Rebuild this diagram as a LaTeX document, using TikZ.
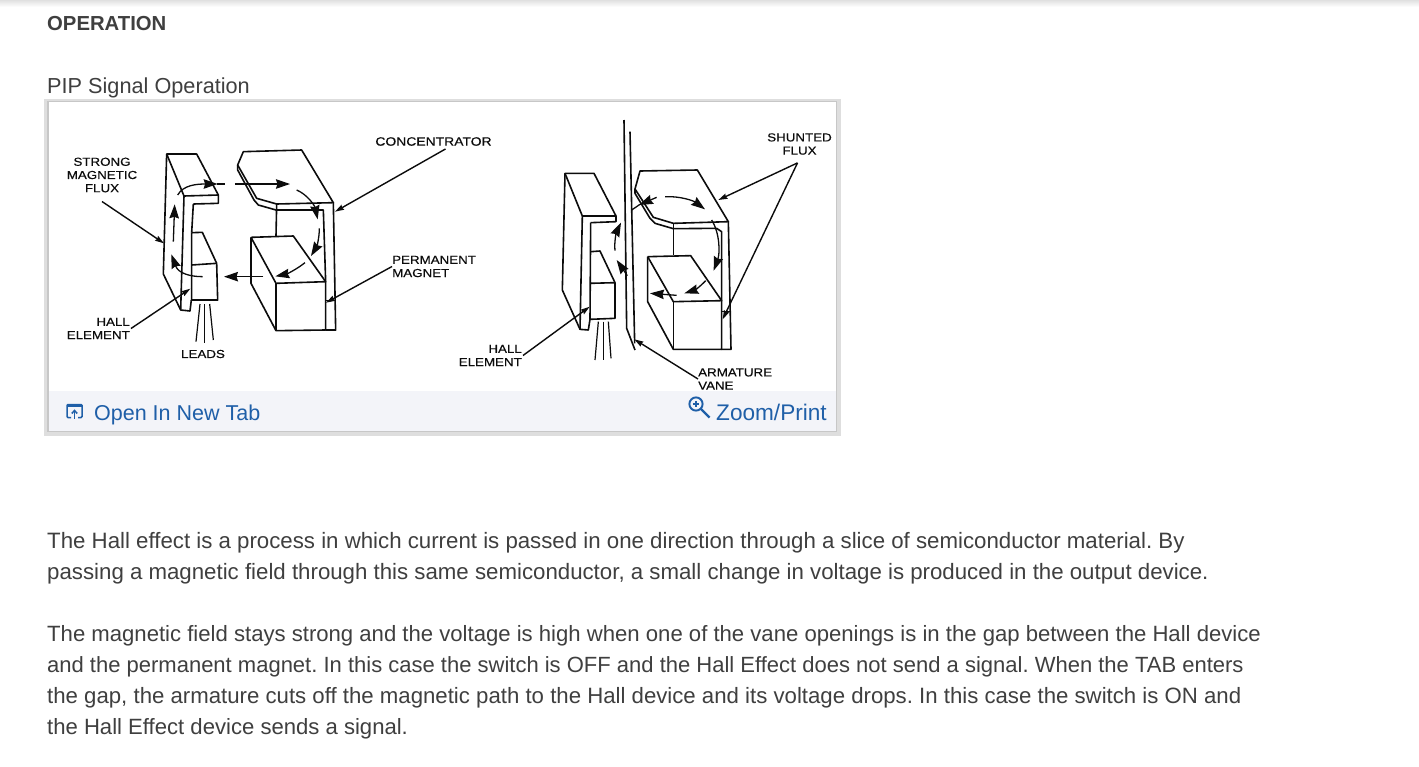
\documentclass[tikz,border=0pt]{standalone}
\usepackage{fontspec}
\setmainfont{Liberation Sans}
\newfontfamily\lblfont[FakeStretch=1.15,FakeBold=0.35]{Liberation Sans}
\frenchspacing
\usetikzlibrary{arrows.meta}
\definecolor{bodytxt}{HTML}{3F3F3F}
\definecolor{linkblue}{HTML}{1F5FA8}
\definecolor{ink}{HTML}{0C0C0C}
\definecolor{footbg}{HTML}{F3F4F9}
\tikzset{
  body/.style={anchor=base west,inner sep=0pt,text=bodytxt,font=\fontsize{22.25}{26}\selectfont},
  lbl/.style={inner sep=0pt,text=ink,font=\lblfont\fontsize{11.6}{13.2}\selectfont},
  link/.style={anchor=base west,inner sep=0pt,text=linkblue,font=\fontsize{21.5}{26}\selectfont},
  part/.style={draw=ink,line width=1.6pt,line join=round},
  flux/.style={draw=ink,line width=1.3pt,-{Stealth[length=14pt,width=9.5pt,inset=1.5pt,fill=ink]}},
  fluxtail/.style={draw=ink,line width=1.3pt},
  lead/.style={draw=ink,line width=1.4pt,-{Stealth[length=9pt,width=5.5pt,inset=1pt,fill=ink]}},
  wire/.style={draw=ink,line width=1.2pt},
}
\begin{document}
\begin{tikzpicture}[x=1pt,y=-1pt]
\useasboundingbox (0,0) rectangle (1419,766);
\fill[white] (0,0) rectangle (1419,766);
\shade[top color=black!12,bottom color=white] (0,0) rectangle (1419,7);

\node[body,font=\fontsize{20.3}{26}\bfseries\selectfont] (title) at (47,30) {OPERATION};
\node[body,font=\fontsize{21.7}{26}\selectfont] (sub) at (47,93) {PIP Signal Operation};

% card
\fill[black!13] (44,99) rectangle (841,436);
\fill[black!22] (47,101) rectangle (837,432);
\fill[white] (48.5,102) rectangle (835.5,430.5);
\fill[footbg] (48.5,391) rectangle (835.5,430.5);

% labels
\node[lbl,align=center] (strong) at (102,175) {STRONG\\MAGNETIC\\FLUX};
\node[lbl,font=\lblfont\fontsize{12.1}{13.2}\selectfont] (conc) at (433.5,141.5) {CONCENTRATOR};
\node[lbl,align=left,anchor=west] (perm) at (392,266.5) {PERMANENT\\MAGNET};
\node[lbl,align=right,anchor=east] (hallA) at (130,328.5) {HALL\\ELEMENT};
\node[lbl] (leadsA) at (203,354) {LEADS};
\node[lbl,align=right,anchor=east] (hallB) at (522,355.5) {HALL\\ELEMENT};
\node[lbl,align=left,anchor=west] (vane) at (698,379) {ARMATURE\\VANE};
\node[lbl,align=center] (shunt) at (799.5,144) {SHUNTED\\FLUX};

% LEFT ASSEMBLY (coordinates in 3x crop units)
\begin{scope}[shift={(50,110)},x=0.33333pt,y=-0.33333pt]
  \draw[part] (430,282) -- (505,280) -- (505,255) -- (440,132) -- (350,132) -- (340,492) -- (392,600) -- (420,603) -- (424,570);
  \draw[part] (350,132) -- (402,258) -- (505,255);
  \draw[part] (402,258) -- (392,600);
  \draw[part] (430,282) -- (425,368);
  % hall element
  \draw[part] (425,368) -- (457,367) -- (500,460) -- (503,570) -- (425,570) -- (425,368);
  \draw[part] (425,465) -- (500,460);
  % leads
  \draw[wire] (450,582) -- (438,695);
  \draw[wire] (464,582) -- (464,700);
  \draw[wire] (479,582) -- (490,690);
  % concentrator
  \draw[part] (680,282) -- (620,265) -- (563,165) -- (580,125) -- (755,120) -- (850,278) -- (680,282);
  \draw[part] (563,165) -- (563,180) -- (612,270) -- (625,285) -- (678,300) -- (820,300) -- (827,515);
  \draw[part] (680,282) -- (678,378);
  \draw[part] (850,278) -- (857,660) -- (827,660);
  % magnet
  \draw[part] (603,382) -- (730,378) -- (827,515) -- (678,520) -- (603,382);
  \draw[part] (603,382) -- (603,520) -- (678,662) -- (827,660) -- (827,515);
  \draw[part] (678,520) -- (678,662);
  \draw[part] (827,572) -- (857,572);
  % flux arrows
  \draw[flux] (383,255) .. controls (400,225) and (440,222) .. (503,222);
  \draw[fluxtail] (500,222) -- (525,222);
  \draw[flux] (555,222) -- (720,222);
  \draw[flux] (740,240) .. controls (775,255) and (795,290) .. (803,328);
  \draw[flux] (808,355) .. controls (808,385) and (800,410) .. (783,438);
  \draw[flux] (765,458) .. controls (740,478) and (710,492) .. (676,499);
  \draw[flux] (640,500) -- (522,500);
  \draw[flux] (458,500) .. controls (420,500) and (385,490) .. (364,433);
  \draw[flux] (370,395) -- (374,283);
  \coordinate (tipStrong) at (342,400);
  \coordinate (tipHallA) at (421,536);
  \coordinate (tipConc) at (855,305);
  \coordinate (tipPerm) at (828,578);
\end{scope}

% RIGHT ASSEMBLY
\begin{scope}[shift={(540,110)},x=0.33333pt,y=-0.33333pt]
  \draw[part] (152,338) -- (228,335) -- (228,318) -- (162,190) -- (75,190) -- (67,540) -- (120,658) -- (145,660) -- (150,628);
  \draw[part] (75,190) -- (127,318) -- (228,318);
  \draw[part] (127,318) -- (120,658);
  % hall element
  \draw[part] (152,338) -- (150,628) -- (225,625) -- (225,518) -- (150,520);
  \draw[part] (153,425) -- (180,423) -- (225,518);
  % leads
  \draw[wire] (175,635) -- (165,750);
  \draw[wire] (190,635) -- (190,750);
  \draw[wire] (205,635) -- (213,745);
  % vane
  \draw[part] (252,30) -- (260,655) -- (285,720);
  \draw[part] (270,65) -- (284,700);
  % concentrator
  \draw[part] (400,340) -- (340,322) -- (285,237) -- (300,183) -- (472,180) -- (565,335) -- (400,340);
  \draw[part] (285,237) -- (285,250) -- (330,325) -- (345,340) -- (400,356) -- (530,355) -- (545,365) -- (545,572);
  \draw[part] (400,340) -- (400,435);
  \draw[part] (565,335) -- (573,718) -- (545,718);
  % magnet
  \draw[part] (323,440) -- (452,437) -- (545,572) -- (400,575) -- (323,440);
  \draw[part] (323,440) -- (323,575) -- (400,718) -- (545,718) -- (545,572);
  \draw[part] (400,575) -- (400,718);
  \draw[part] (545,605) -- (573,605);
  % flux arrows
  \draw[flux] (350,262) -- (297,285);
  \draw[fluxtail] (300,283) -- (275,300);
  \draw[flux] (375,260) .. controls (420,258) and (460,272) .. (495,298);
  \draw[flux] (515,330) .. controls (540,370) and (540,430) .. (521,482);
  \draw[flux] (497,512) .. controls (480,530) and (465,540) .. (433,550);
  \draw[flux] (410,556) -- (330,550);
  \draw[flux] (225,422) .. controls (222,395) and (230,365) .. (243,338);
  \draw[flux] (262,497) -- (230,450);
  \coordinate (tipShuntA) at (535,270);
  \coordinate (tipShuntB) at (548,628);
  \coordinate (tipVane) at (283,688);
  \coordinate (tipHallB) at (149,590);
\end{scope}

% leaders
\draw[lead] ([yshift=-9pt]strong.south) -- (tipStrong);
\draw[lead] ([xshift=1pt]hallA.east) -- (tipHallA);
\draw[lead] ([xshift=12pt,yshift=-3pt]conc.south) -- (tipConc);
\draw[lead] (perm.west) -- (tipPerm);
\draw[lead] ([xshift=1pt]hallB.east) -- (tipHallB);
\draw[lead] (vane.west) -- (tipVane);
\draw[lead] ([xshift=-2pt,yshift=-8pt]shunt.south) -- (tipShuntA);
\draw[lead] ([xshift=-2pt,yshift=-8pt]shunt.south) -- (tipShuntB);

% footer links
\begin{scope}[draw=linkblue,line width=1.5pt]
  \draw[rounded corners=1pt] (71,417.5) -- (67,417.5) -- (67,404.5) -- (82,404.5) -- (82,417.5) -- (78,417.5);
  \draw[line width=2.6pt] (67,405.5) -- (82,405.5);
  \draw (74.5,418.5) -- (74.5,411);
  \draw (71.8,413.5) -- (74.5,410.5) -- (77.2,413.5);
  \draw[line width=1.9pt] (696,404) circle (6.6);
  \draw[line width=2.4pt] (701,409) -- (709.5,417.5);
  \draw[line width=1.1pt] (692.8,404) -- (699.2,404) (696,400.8) -- (696,407.2);
\end{scope}
\node[link] (opentab) at (94,420) {Open In New Tab};
\node[link,font=\fontsize{22.6}{26}\selectfont] (zoomprint) at (716,420) {Zoom/Print};

% paragraphs
\node[body] (p1) at (47,548) {The Hall effect is a process in which current is passed in one direction through a slice of semiconductor material. By};
\node[body] (p2) at (47,579) {passing a magnetic field through this same semiconductor, a small change in voltage is produced in the output device.};
\node[body,font=\fontsize{22.12}{26}\selectfont] (p3) at (47,641) {The magnetic field stays strong and the voltage is high when one of the vane openings is in the gap between the Hall device};
\node[body,font=\fontsize{22}{26}\selectfont] (p4) at (47,672) {and the permanent magnet. In this case the switch is OFF and the Hall Effect does not send a signal. When the TAB enters};
\node[body,font=\fontsize{22.2}{26}\selectfont] (p5) at (47,703) {the gap, the armature cuts off the magnetic path to the Hall device and its voltage drops. In this case the switch is ON and};
\node[body,font=\fontsize{22.1}{26}\selectfont] (p6) at (47,734) {the Hall Effect device sends a signal.};
\end{tikzpicture}
\end{document}
